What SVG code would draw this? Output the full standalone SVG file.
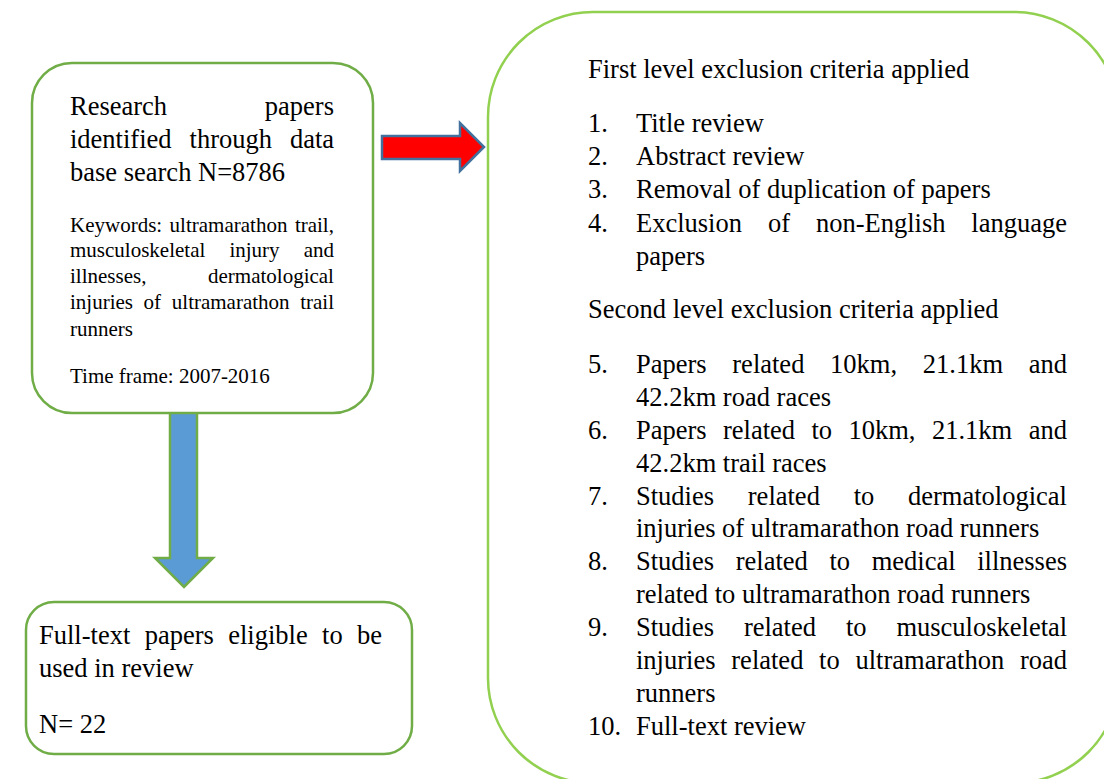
<svg xmlns="http://www.w3.org/2000/svg" width="1104" height="779" viewBox="0 0 1104 779">
<style>
.big{font-family:"Liberation Serif","Times New Roman",serif;font-size:26.5px;fill:#000}
.small{font-family:"Liberation Serif","Times New Roman",serif;font-size:21px;fill:#000}
.box{fill:#fff;stroke:#70AD47;stroke-width:2.5}
.bigbox{fill:#fff;stroke:#92D050;stroke-width:2.5}
</style>
<rect width="1104" height="779" fill="#fff"/>
<g id="connectors">
<path id="arrow-right" d="M382,136 L460,136 L460,123 L484,147 L460,171 L460,159 L382,159 Z" fill="#FF0000" stroke="#41719C" stroke-width="2.5" stroke-linejoin="miter"/>
<path id="arrow-down" d="M170,412 L197,412 L197,558 L213,558 L184,587 L155,558 L170,558 Z" fill="#5B9BD5" stroke="#70AD47" stroke-width="2.5"/>
</g>
<g id="node-search">
<path class="box" d="M72,63 L333,63 A40,40 0 0 1 373,103 L373,373 A40,40 0 0 1 333,413 L72,413 A40,40 0 0 1 32,373 L32,103 A40,40 0 0 1 72,63 Z"/>
<text class="big"><tspan x="70" y="115">Research</tspan><tspan x="264.8" y="115">papers</tspan></text>
<text class="big"><tspan x="70" y="148">identified</tspan><tspan x="189.6" y="148">through</tspan><tspan x="289.9" y="148">data</tspan></text>
<text class="big" x="70" y="181">base search N=8786</text>
<text class="small"><tspan x="70" y="232">Keywords:</tspan><tspan x="169.6" y="232">ultramarathon</tspan><tspan x="294.9" y="232">trail,</tspan></text>
<text class="small"><tspan x="70" y="257">musculoskeletal</tspan><tspan x="229.4" y="257">injury</tspan><tspan x="303.7" y="257">and</tspan></text>
<text class="small"><tspan x="70" y="283">illnesses,</tspan><tspan x="208" y="283">dermatological</tspan></text>
<text class="small"><tspan x="70" y="309">injuries</tspan><tspan x="143.6" y="309">of</tspan><tspan x="171.8" y="309">ultramarathon</tspan><tspan x="300.2" y="309">trail</tspan></text>
<text class="small" x="70" y="336">runners</text>
<text class="small" x="70" y="383">Time frame: 2007-2016</text>
</g>
<g id="node-fulltext">
<rect class="box" x="26" y="602" width="386" height="152" rx="28" ry="28"/>
<text class="big"><tspan x="39" y="644">Full-text</tspan><tspan x="144.7" y="644">papers</tspan><tspan x="228.2" y="644">eligible</tspan><tspan x="322.1" y="644">to</tspan><tspan x="357" y="644">be</tspan></text>
<text class="big" x="39" y="677">used in review</text>
<text class="big" x="39" y="733">N= 22</text>
</g>
<g id="node-exclusion">
<rect class="bigbox" x="488" y="12" width="631" height="771" rx="105" ry="105"/>
<text class="big" x="588" y="78">First level exclusion criteria applied</text>
<text class="big"><tspan x="588" y="132">1.</tspan><tspan x="636" y="132">Title review</tspan></text>
<text class="big"><tspan x="588" y="165">2.</tspan><tspan x="636" y="165">Abstract review</tspan></text>
<text class="big"><tspan x="588" y="198">3.</tspan><tspan x="636" y="198">Removal of duplication of papers</tspan></text>
<text class="big"><tspan x="588" y="232">4.</tspan><tspan x="636" y="232">Exclusion</tspan><tspan x="767.9" y="232">of</tspan><tspan x="815.9" y="232">non-English</tspan><tspan x="971.3" y="232">language</tspan></text>
<text class="big" x="636" y="265">papers</text>
<text class="big" x="588" y="318">Second level exclusion criteria applied</text>
<text class="big"><tspan x="588" y="373">5.</tspan><tspan x="636" y="373">Papers</tspan><tspan x="732.3" y="373">related</tspan><tspan x="830.1" y="373">10km,</tspan><tspan x="922.8" y="373">21.1km</tspan><tspan x="1028.7" y="373">and</tspan></text>
<text class="big" x="636" y="406">42.2km road races</text>
<text class="big"><tspan x="588" y="439">6.</tspan><tspan x="636" y="439">Papers</tspan><tspan x="723" y="439">related</tspan><tspan x="811.5" y="439">to</tspan><tspan x="848.5" y="439">10km,</tspan><tspan x="931.9" y="439">21.1km</tspan><tspan x="1028.7" y="439">and</tspan></text>
<text class="big" x="636" y="472">42.2km trail races</text>
<text class="big"><tspan x="588" y="505">7.</tspan><tspan x="636" y="505">Studies</tspan><tspan x="747.8" y="505">related</tspan><tspan x="853.7" y="505">to</tspan><tspan x="908" y="505">dermatological</tspan></text>
<text class="big" x="636" y="537">injuries of ultramarathon road runners</text>
<text class="big"><tspan x="588" y="570">8.</tspan><tspan x="636" y="570">Studies</tspan><tspan x="735.7" y="570">related</tspan><tspan x="829.4" y="570">to</tspan><tspan x="871.7" y="570">medical</tspan><tspan x="977.2" y="570">illnesses</tspan></text>
<text class="big" x="636" y="603">related to ultramarathon road runners</text>
<text class="big"><tspan x="588" y="636">9.</tspan><tspan x="636" y="636">Studies</tspan><tspan x="743.9" y="636">related</tspan><tspan x="845.9" y="636">to</tspan><tspan x="896.4" y="636">musculoskeletal</tspan></text>
<text class="big"><tspan x="636" y="669">injuries</tspan><tspan x="731.3" y="669">related</tspan><tspan x="819.1" y="669">to</tspan><tspan x="855.5" y="669">ultramarathon</tspan><tspan x="1019.9" y="669">road</tspan></text>
<text class="big" x="636" y="702">runners</text>
<text class="big"><tspan x="588" y="735">10.</tspan><tspan x="636" y="735">Full-text review</tspan></text>
</g>
</svg>
